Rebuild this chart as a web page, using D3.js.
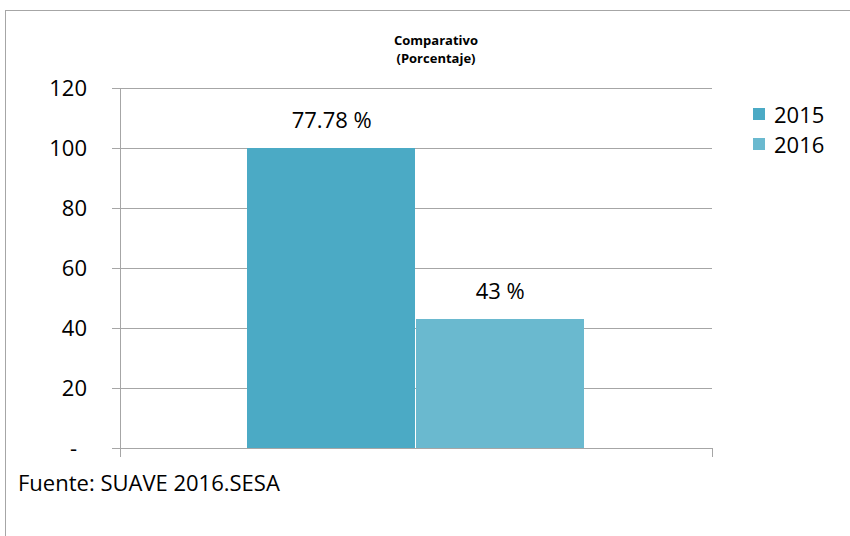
<!DOCTYPE html>
<html>
<head>
<meta charset="utf-8">
<script src="https://cdn.jsdelivr.net/npm/d3@7"></script>
<style>
  html, body { margin: 0; padding: 0; background: #fff; }
  svg { display: block; }
  text { font-family: "Open Sans", "Noto Sans", sans-serif; fill: #000; }
</style>
</head>
<body>
<svg id="chart" width="850" height="536"></svg>
<script>
// ---- data ----
const categories = [""];
const seriesNames = ["2015", "2016"];
const seriesValues = [100, 43];
const barLabels = ["77.78 %", "43 %"];
const seriesColors = ["#4BAAC5", "#6AB9CF"];
const yTicks = [0, 20, 40, 60, 80, 100, 120];
const titleLines = ["Comparativo", "(Porcentaje)"];
const sourceText = "Fuente: SUAVE 2016.SESA";

// ---- layout ----
const svg = d3.select("#chart");
const plot = { left: 120, right: 712, top: 88, bottom: 448 };

// outer frame
svg.append("rect")
  .attr("x", 5.5).attr("y", 10.5)
  .attr("width", 900).attr("height", 600)
  .attr("fill", "none").attr("stroke", "#a6a6a6").attr("stroke-width", 1);

const y = d3.scaleLinear().domain([0, 120]).range([plot.bottom, plot.top]);
const x0 = d3.scaleBand().domain(categories)
  .range([plot.left, plot.right]).paddingInner(0).paddingOuter(0.378);
const x1 = d3.scaleBand().domain(seriesNames)
  .range([0, x0.bandwidth()]).padding(0);

// gridlines
const grid = svg.append("g")
  .attr("transform", `translate(${plot.left},0)`)
  .call(d3.axisLeft(y).tickValues(yTicks).tickSize(-(plot.right - plot.left)).tickFormat(""));
grid.select(".domain").remove();
grid.selectAll("line").attr("stroke", "#a6a6a6").attr("shape-rendering", "crispEdges");

// bars
const rows = seriesNames.map((s, i) => ({ cat: categories[0], name: s, value: seriesValues[i], label: barLabels[i], color: seriesColors[i] }));
const barG = svg.append("g");
barG.selectAll("rect").data(rows).enter().append("rect")
  .attr("x", d => x0(d.cat) + x1(d.name))
  .attr("y", d => y(d.value))
  .attr("width", d => x1.bandwidth() - 1)
  .attr("height", d => y(0) - y(d.value))
  .attr("fill", d => d.color)
  .attr("shape-rendering", "crispEdges");

// bar labels
barG.selectAll("text").data(rows).enter().append("text")
  .attr("x", d => x0(d.cat) + x1(d.name) + x1.bandwidth() / 2)
  .attr("y", d => y(d.value) - 20)
  .attr("text-anchor", "middle")
  .attr("font-size", 22)
  .text(d => d.label);

// y axis with left ticks and labels
const yAxis = svg.append("g")
  .attr("transform", `translate(${plot.left},0)`)
  .call(d3.axisLeft(y).tickValues(yTicks).tickSize(8).tickPadding(25)
    .tickFormat(d => d === 0 ? "-" : d3.format("d")(d)));
yAxis.select(".domain").remove();
yAxis.selectAll("line").attr("stroke", "#a6a6a6").attr("shape-rendering", "crispEdges");
yAxis.selectAll("text")
  .attr("font-size", 22)
  .attr("font-family", "'Open Sans', sans-serif")
  .attr("fill", "#000")
  .attr("dx", d => d === 0 ? -10 : 0);

// vertical axis line
svg.append("line")
  .attr("x1", plot.left).attr("x2", plot.left)
  .attr("y1", plot.top).attr("y2", plot.bottom + 9)
  .attr("stroke", "#a6a6a6").attr("shape-rendering", "crispEdges");

// x axis: baseline plus category boundary ticks
const xAxis = svg.append("g")
  .attr("transform", `translate(0,${plot.bottom})`)
  .call(d3.axisBottom(x0).tickSize(0).tickFormat(""));
xAxis.select(".domain")
  .attr("d", `M${plot.left - 8},0H${plot.right}`)
  .attr("stroke", "#a6a6a6").attr("shape-rendering", "crispEdges");
xAxis.selectAll(".tick").remove();
xAxis.append("line")
  .attr("x1", plot.right).attr("x2", plot.right)
  .attr("y1", 0).attr("y2", 9)
  .attr("stroke", "#a6a6a6").attr("shape-rendering", "crispEdges");

// title
const title = svg.append("text")
  .attr("text-anchor", "middle")
  .attr("font-size", 13)
  .attr("font-weight", "bold");
titleLines.forEach((t, i) => {
  title.append("tspan").attr("x", 436).attr("y", 45 + i * 18).text(t);
});

// legend
const legend = svg.append("g");
seriesNames.forEach((s, i) => {
  const g = legend.append("g").attr("transform", `translate(753,${108 + i * 30})`);
  g.append("rect").attr("width", 12).attr("height", 12).attr("fill", seriesColors[i]);
  g.append("text").attr("x", 21).attr("y", 15).attr("font-size", 22).text(s);
});

// source
svg.append("text")
  .attr("x", 18).attr("y", 491)
  .attr("font-size", 22)
  .text(sourceText);
</script>
</body>
</html>
